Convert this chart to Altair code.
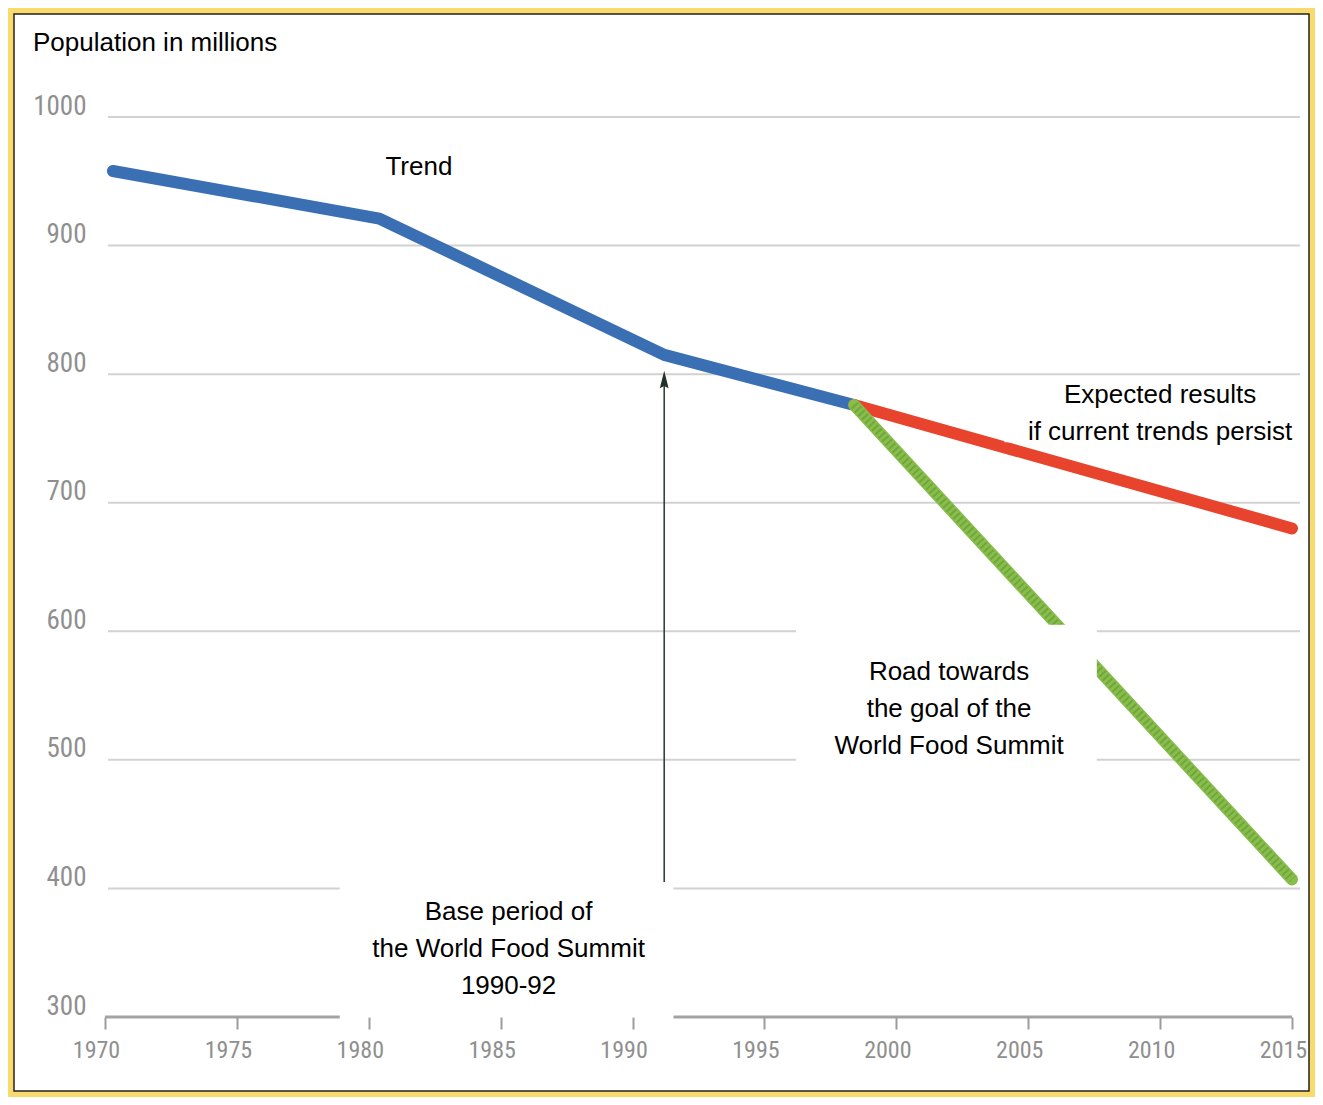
import altair as alt
import pandas as pd

# ---- data ----
trend_years = [1970.3, 1980.4, 1991.2, 1998.4]
trend_pop = [958, 921, 815, 776]
current_years = [1998.4, 2015]
current_pop = [776, 680]
goal_years = [1998.4, 2015]
goal_pop = [776, 407]
x_ticks = [1970, 1975, 1980, 1985, 1990, 1995, 2000, 2005, 2010, 2015]
y_ticks = [300, 400, 500, 600, 700, 800, 900, 1000]
grid_values = [400, 500, 600, 700, 800, 900, 1000]
base_year = [1991.2]
base_from = [300]
base_to = [797]
head_at = [795]

ann_text = ["Trend", "Expected results\n if current trends persist",
            "Road towards\nthe goal of the\nWorld Food Summit",
            "Base period of\nthe World Food Summit\n1990-92"]
ann_year = [1981.9, 2010.0, 2002.0, 1985.3]
ann_pop = [961, 784, 568, 382]

box_x1 = [2004.1, 1996.2, 1978.9]
box_x2 = [2015.3, 2007.6, 1991.55]
box_y1 = [791, 605, 405]
box_y2 = [747, 490, 298]

W, H = 1187, 900
FONT = "Liberation Sans, Arial, sans-serif"
NARROW = "Liberation Sans Narrow, Roboto Condensed, DejaVu Sans Condensed, sans-serif"

xs = alt.Scale(domain=[1970, 2015], nice=False, zero=False)
ys = alt.Scale(domain=[300, 1000], nice=False, zero=False)
xax = alt.Axis(values=x_ticks, format="d", title=None, grid=False, domain=False,
               labelFont=NARROW, labelFontSize=24, labelColor="#8f8f8f",
               tickColor="#9c9c9c", tickWidth=2, tickSize=12, labelPadding=9,
               labelOffset=-9, labelFlush=False, zindex=1)
yax = alt.Axis(values=y_ticks, format="d", title=None, grid=False, domain=False,
               ticks=False, tickSize=0, labelFont=NARROW, labelFontSize=27,
               labelColor="#8f8f8f", labelPadding=19, labelOffset=-11,
               labelFlush=False, zindex=1)

one = pd.DataFrame([{"k": 0}])

panel = alt.Chart(one).mark_rect(fill="white", stroke="#222222", strokeWidth=1.5).encode(
    x=alt.value(-91), x2=alt.value(1204), y=alt.value(-103), y2=alt.value(974))

grid = alt.Chart(pd.DataFrame({"v": grid_values})).mark_rule(
    color="#d2d2d2", strokeWidth=2).encode(
    y=alt.Y("v:Q", scale=ys, axis=yax), x=alt.value(3), x2=alt.value(1195))

domain = alt.Chart(one).mark_rule(color="#a3a3a3", strokeWidth=3).encode(
    y=alt.datum(300, scale=ys), x=alt.value(0), x2=alt.value(W))

arrow_df = pd.DataFrame({"year": base_year, "a": base_from, "b": base_to, "h": head_at})
arrow = alt.Chart(arrow_df).mark_rule(color="#34443a", strokeWidth=1.6).encode(
    x=alt.X("year:Q", scale=xs, axis=xax), y=alt.Y("a:Q", scale=ys), y2="b:Q")
head = alt.Chart(arrow_df).mark_point(
    shape="M0,-1L0.45,0.8L0,0.55L-0.45,0.8Z", filled=True, color="#1f3328",
    opacity=1, size=380).encode(
    x=alt.X("year:Q", scale=xs), y=alt.Y("h:Q", scale=ys))

def series(years, pops, color, width=12):
    df = pd.DataFrame({"year": years, "pop": pops})
    return alt.Chart(df).mark_line(color=color, strokeWidth=width, strokeCap="round",
                                   strokeJoin="round").encode(
        x=alt.X("year:Q", scale=xs, axis=xax), y=alt.Y("pop:Q", scale=ys, axis=yax))

blue = series(trend_years, trend_pop, "#3a6fb3")
red = series(current_years, current_pop, "#e8432d")
green = series(goal_years, goal_pop, "#87bd4b")
green_tex = alt.Chart(pd.DataFrame({"year": goal_years, "pop": goal_pop})).mark_line(
    color="#6a9c38", strokeWidth=9, strokeDash=[2, 3], opacity=0.7).encode(
    x=alt.X("year:Q", scale=xs), y=alt.Y("pop:Q", scale=ys))

boxes = alt.Chart(pd.DataFrame({"x1": box_x1, "x2": box_x2, "y1": box_y1, "y2": box_y2})
                  ).mark_rect(fill="white").encode(
    x=alt.X("x1:Q", scale=xs), x2="x2:Q", y=alt.Y("y1:Q", scale=ys), y2="y2:Q")

texts = alt.Chart(pd.DataFrame({"t": ann_text, "year": ann_year, "pop": ann_pop})).mark_text(
    font=FONT, fontSize=26, color="black", lineBreak="\n", lineHeight=37,
    align="center", baseline="middle").encode(
    x=alt.X("year:Q", scale=xs), y=alt.Y("pop:Q", scale=ys), text="t:N")

title = alt.Chart(one).mark_text(
    text="Population in millions", font=FONT, fontSize=26, color="black",
    align="left", baseline="middle").encode(x=alt.value(-72), y=alt.value(-74))

chart = alt.layer(panel, grid, domain, arrow, head, blue, red, green, green_tex,
                  boxes, texts, title).properties(
    width=W, height=H,
    autosize=alt.AutoSizeParams(type="none"),
    padding={"left": 97, "top": 109, "right": 23, "bottom": 80},
).configure(background="#f9da6c").configure_view(stroke=None)

chart.save("out.html", embed_options={"renderer": "svg", "actions": False})
